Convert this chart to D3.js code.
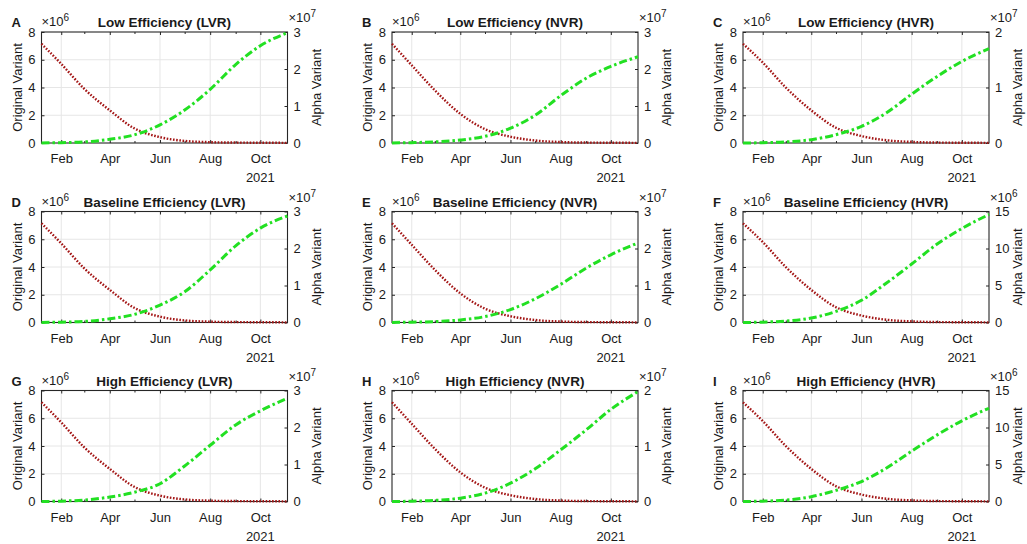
<!DOCTYPE html>
<html><head><meta charset="utf-8">
<script src="https://cdn.jsdelivr.net/npm/d3@7"></script>
<style>
html,body{margin:0;padding:0;background:#fff;}
svg text{font-family:"Liberation Sans",Arial,sans-serif;fill:#1a1a1a;}
</style></head>
<body><svg id="c" width="1027" height="544"></svg>
<script>
// ---- data ----
const dates = ["2021-01-08","2021-02-01","2021-03-01","2021-04-01","2021-05-01","2021-06-01","2021-07-01","2021-08-01","2021-09-01","2021-10-01","2021-11-03"];
// Original variant (x1e6)
const redLVR = [7.15,5.7,3.9,2.35,1.05,0.42,0.15,0.06,0.03,0.02,0.01];
const redNVR = [7.15,5.6,3.8,2.1,1.0,0.45,0.18,0.07,0.03,0.02,0.01];
const redHVR = [7.15,5.8,4.0,2.35,1.1,0.5,0.2,0.08,0.03,0.02,0.01];
// Alpha variant (right-axis units)
const greenA = [0,0.01,0.03,0.10,0.22,0.49,0.89,1.45,2.12,2.63,2.98];
const greenB = [0,0.01,0.03,0.08,0.18,0.40,0.75,1.28,1.75,2.07,2.33];
const greenC = [0,0.005,0.02,0.06,0.15,0.30,0.54,0.88,1.20,1.47,1.70];
const greenD = [0,0.01,0.03,0.10,0.22,0.47,0.83,1.42,2.07,2.55,2.88];
const greenE = [0,0.01,0.025,0.07,0.16,0.35,0.64,1.03,1.47,1.83,2.15];
const greenF = [0,0.05,0.2,0.6,1.5,3.0,5.3,7.9,10.6,12.7,14.6];
const greenG = [0,0.01,0.04,0.12,0.25,0.48,0.96,1.52,2.07,2.45,2.79];
const greenH = [0,0.005,0.02,0.06,0.15,0.33,0.59,0.93,1.29,1.66,1.98];
const greenI = [0,0.05,0.2,0.65,1.5,2.7,4.5,6.8,9.0,10.9,12.6];
const letters = ["A","B","C","D","E","F","G","H","I"];
const titles = ["Low Efficiency (LVR)","Low Efficiency (NVR)","Low Efficiency (HVR)",
  "Baseline Efficiency (LVR)","Baseline Efficiency (NVR)","Baseline Efficiency (HVR)",
  "High Efficiency (LVR)","High Efficiency (NVR)","High Efficiency (HVR)"];
const reds = [redLVR,redNVR,redHVR,redLVR,redNVR,redHVR,redLVR,redNVR,redHVR];
const greens = [greenA,greenB,greenC,greenD,greenE,greenF,greenG,greenH,greenI];
const rightMax = [3,3,2,3,3,15,3,2,15];
const rightTicks = [[0,1,2,3],[0,1,2,3],[0,1,2],[0,1,2,3],[0,1,2,3],[0,5,10,15],[0,1,2,3],[0,1,2],[0,5,10,15]];
const rightExp = [7,7,7,7,7,6,7,7,6];
const leftTicks = [0,2,4,6,8];
const majorMonths = ["2021-02-01","2021-04-01","2021-06-01","2021-08-01","2021-10-01"];
const minorMonths = ["2021-03-01","2021-05-01","2021-07-01","2021-09-01"];
const xDomain = ["2021-01-08","2021-11-03"];
const yearLabel = "2021";

// ---- drawing ----
const parse = d3.timeParse("%Y-%m-%d");
const svg = d3.select("#c");
const colX = [41.5, 392, 743], rowY = [32, 211.5, 390.5];
const W = 246, H = 111;
const axisCol = "#262626";

for (let i = 0; i < 9; i++) {
  const col = i % 3, row = Math.floor(i / 3);
  const g = svg.append("g").attr("transform", `translate(${colX[col]},${rowY[row]})`);
  const x = d3.scaleTime().domain(xDomain.map(parse)).range([0, W]);
  const yL = d3.scaleLinear().domain([0, 8]).range([H, 0]);
  const yR = d3.scaleLinear().domain([0, rightMax[i]]).range([H, 0]);

  // grid
  g.append("g").selectAll("line").data(majorMonths.map(parse)).join("line")
    .attr("x1", d => x(d)).attr("x2", d => x(d)).attr("y1", 0).attr("y2", H)
    .attr("stroke", "#e6e6e6").attr("stroke-width", 1);
  g.append("g").selectAll("line").data(leftTicks.slice(1, -1)).join("line")
    .attr("x1", 0).attr("x2", W).attr("y1", d => yL(d)).attr("y2", d => yL(d))
    .attr("stroke", "#e6e6e6").attr("stroke-width", 1);

  // axes
  const xa = g.append("g").attr("transform", `translate(0,${H})`)
    .call(d3.axisBottom(x).tickValues(majorMonths.map(parse)).tickFormat(d3.timeFormat("%b")).tickSizeInner(-3).tickSizeOuter(0).tickPadding(11));
  const xm = g.append("g").attr("transform", `translate(0,${H})`)
    .call(d3.axisBottom(x).tickValues(minorMonths.map(parse)).tickFormat("").tickSizeInner(-2).tickSizeOuter(0));
  const xt = g.append("g")
    .call(d3.axisTop(x).tickValues(majorMonths.map(parse)).tickFormat("").tickSizeInner(-3).tickSizeOuter(0));
  const xtm = g.append("g")
    .call(d3.axisTop(x).tickValues(minorMonths.map(parse)).tickFormat("").tickSizeInner(-2).tickSizeOuter(0));
  const ya = g.append("g")
    .call(d3.axisLeft(yL).tickValues(leftTicks).tickFormat(d3.format("d")).tickSizeInner(-3).tickSizeOuter(0).tickPadding(6));
  const yb = g.append("g").attr("transform", `translate(${W},0)`)
    .call(d3.axisRight(yR).tickValues(rightTicks[i]).tickFormat(d3.format("d")).tickSizeInner(-3).tickSizeOuter(0).tickPadding(6));
  [xa, xm, xt, xtm, ya, yb].forEach(a => {
    a.select(".domain").remove();
    a.selectAll("line").attr("stroke", axisCol);
    a.selectAll("text").attr("font-size", 13).attr("fill", "#1a1a1a");
  });
  g.append("rect").attr("x", 0).attr("y", 0).attr("width", W).attr("height", H)
    .attr("fill", "none").attr("stroke", axisCol).attr("stroke-width", 1.1);

  // lines
  const pts = (arr, ys) => arr.map((v, k) => [x(parse(dates[k])), ys(v)]);
  const line = d3.line().curve(d3.curveMonotoneX);
  g.append("path").attr("d", line(pts(reds[i], yL)))
    .attr("fill", "none").attr("stroke", "#a31515").attr("stroke-width", 2.4)
    .attr("stroke-dasharray", "1.6,1.6");
  g.append("path").attr("d", line(pts(greens[i], yR)))
    .attr("fill", "none").attr("stroke", "#22e022").attr("stroke-width", 3)
    .attr("stroke-dasharray", "8,3,2.5,3");

  // labels
  g.append("text").attr("x", W / 2).attr("y", -5).attr("text-anchor", "middle")
    .attr("font-size", 13.5).attr("font-weight", "bold").text(titles[i]);
  g.append("text").attr("x", -30).attr("y", -5).attr("font-size", 13).attr("font-weight", "bold").text(letters[i]);
  const ml = g.append("text").attr("x", 0).attr("y", -6).attr("font-size", 13).attr("fill", "#555");
  ml.append("tspan").text("\u00d710");
  ml.append("tspan").attr("dy", -5).attr("font-size", 10).text("6");
  const mr = g.append("text").attr("x", W + 1).attr("y", -10).attr("font-size", 13).attr("fill", "#555");
  mr.append("tspan").text("\u00d710");
  mr.append("tspan").attr("dy", -5).attr("font-size", 10).text(String(rightExp[i]));
  g.append("text").attr("transform", `translate(-20,${H / 2}) rotate(-90)`).attr("text-anchor", "middle")
    .attr("font-size", 13).text("Original Variant");
  g.append("text").attr("transform", `translate(${W + 33},${H / 2}) rotate(-90)`).attr("text-anchor", "middle")
    .attr("font-size", 13).text("Alpha Variant");
  g.append("text").attr("x", x(parse(majorMonths[4]))).attr("y", H + 39).attr("text-anchor", "middle")
    .attr("font-size", 13).text(yearLabel);
}
</script></body></html>
